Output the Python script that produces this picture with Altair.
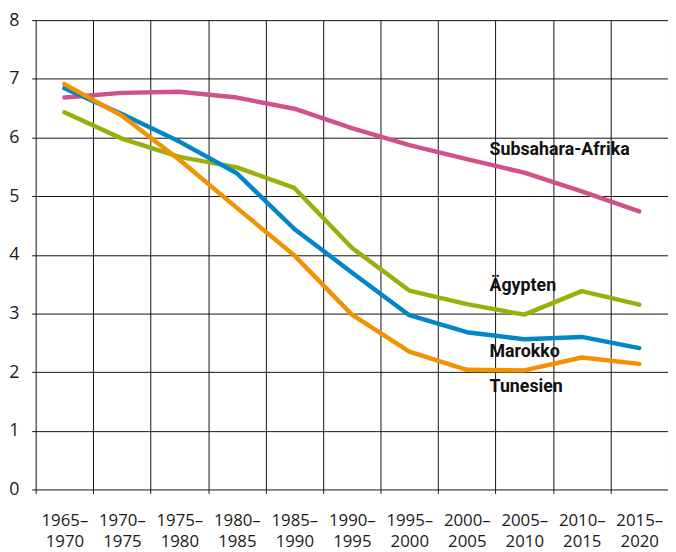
import altair as alt
import pandas as pd

periods = ["1965–1970", "1970–1975", "1975–1980", "1980–1985", "1985–1990", "1990–1995",
           "1995–2000", "2000–2005", "2005–2010", "2010–2015", "2015–2020"]

subsahara = [6.68, 6.76, 6.78, 6.68, 6.49, 6.16, 5.87, 5.63, 5.40, 5.08, 4.74]
aegypten = [6.43, 5.98, 5.67, 5.49, 5.14, 4.12, 3.39, 3.16, 2.98, 3.38, 3.15]
marokko = [6.84, 6.40, 5.93, 5.39, 4.44, 3.70, 2.97, 2.68, 2.56, 2.60, 2.41]
tunesien = [6.91, 6.37, 5.62, 4.80, 3.99, 2.98, 2.35, 2.04, 2.03, 2.25, 2.14]

series_names = ["Subsahara-Afrika", "Ägypten", "Marokko", "Tunesien"]
series_values = [subsahara, aegypten, marokko, tunesien]
series_colors = ["#cf5289", "#9bae0c", "#0087c6", "#f39200"]

label_period = ["2000–2005", "2000–2005", "2000–2005", "2000–2005"]
label_y = [5.79, 3.46, 2.34, 1.75]

y_ticks = [0, 1, 2, 3, 4, 5, 6, 7, 8]

rows = []
for name, vals in zip(series_names, series_values):
    for p, v in zip(periods, vals):
        rows.append({"period": p, "value": v, "series": name})
df = pd.DataFrame(rows)

labels_df = pd.DataFrame({"period": label_period, "value": label_y, "series": series_names})

x_enc = alt.X(
    "period:O",
    sort=periods,
    scale=alt.Scale(type="band", paddingInner=0, paddingOuter=0),
    bandPosition=0.5,
    axis=alt.Axis(
        title=None,
        tickBand="extent",
        grid=True,
        gridColor="#111111",
        gridWidth=1,
        gridOpacity=1,
        domain=False,
        ticks=True,
        tickColor="#111111",
        tickSize=4,
        labelAngle=0,
        labelFont="Open Sans",
        labelFontSize=17,
        labelColor="#1a1a1a",
        labelPadding=19,
        labelLineHeight=22,
        labelBaseline="top",
        labelExpr="[slice(datum.label,0,5), slice(datum.label,5)]",
    ),
)

y_enc = alt.Y(
    "value:Q",
    scale=alt.Scale(domain=[0, 8], nice=False, zero=True),
    axis=alt.Axis(
        title=None,
        values=y_ticks,
        labelExpr="format(datum.value, 'd')",
        grid=True,
        gridColor="#111111",
        gridWidth=1,
        gridOpacity=1,
        domain=False,
        ticks=True,
        tickColor="#111111",
        tickSize=4,
        labelFont="Open Sans",
        labelFontSize=18,
        labelColor="#1a1a1a",
        labelPadding=13,
    ),
)

color_enc = alt.Color(
    "series:N",
    scale=alt.Scale(domain=series_names, range=series_colors),
    legend=None,
)

lines = alt.Chart(df).mark_line(strokeWidth=4.5, strokeCap="round", strokeJoin="round").encode(
    x=x_enc, y=y_enc, color=color_enc, order=alt.Order("period:O")
)

texts = alt.Chart(labels_df).mark_text(
    align="left", baseline="middle", dx=23, font="Roboto", fontWeight="bold", fontSize=18, color="#111111"
).encode(
    x=alt.X("period:O", sort=periods, bandPosition=0.5),
    y=alt.Y("value:Q"),
    text="series:N",
)

chart = alt.layer(lines, texts).properties(
    width=640,
    height=475,
    autosize=alt.AutoSizeParams(type="none"),
    padding={"left": 28, "top": 9, "right": 0, "bottom": 59},
).configure_view(stroke=None)

chart.save("out.html", embed_options={"renderer": "svg", "actions": False})
